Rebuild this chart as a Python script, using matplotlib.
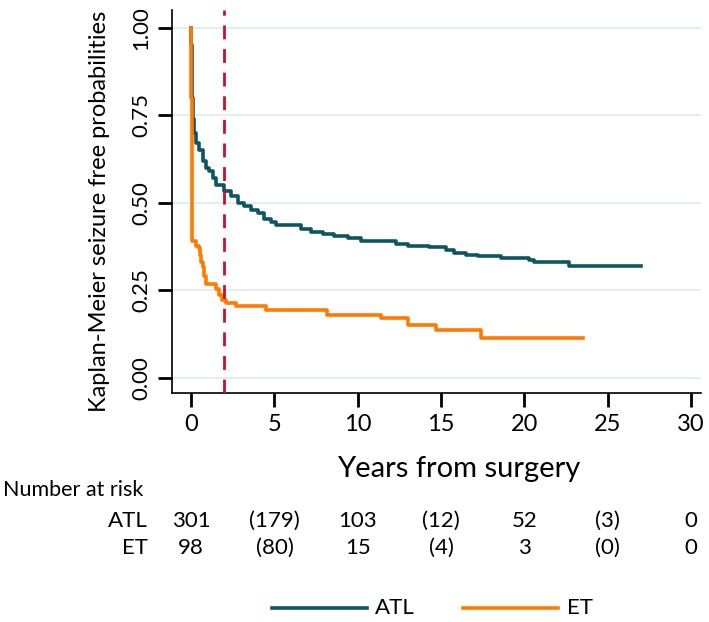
import matplotlib
matplotlib.use("Agg")
import matplotlib.pyplot as plt

plt.rcParams['font.family'] = ['Lato', 'DejaVu Sans']

# Kaplan-Meier step data (years, survival)
atl_t = [0, 0.02, 0.05, 0.08, 0.12, 0.2, 0.3, 0.48, 0.7, 0.9, 1.1, 1.3, 1.5, 2.0, 2.4,
         2.8, 3.2, 3.6, 4.0, 4.4, 4.8, 5.1, 6.6, 7.2, 7.9, 8.6, 9.4, 10.2, 12.3, 13.0,
         14.3, 15.3, 15.8, 16.5, 17.2, 18.6, 20.3, 20.6, 22.7, 27.0]
atl_s = [1.0, 0.95, 0.88, 0.80, 0.74, 0.70, 0.67, 0.65, 0.62, 0.60, 0.59, 0.57, 0.55, 0.535, 0.52,
         0.50, 0.49, 0.48, 0.47, 0.455, 0.445, 0.437, 0.425, 0.418, 0.41, 0.405, 0.40, 0.392, 0.383, 0.378,
         0.373, 0.365, 0.358, 0.352, 0.349, 0.342, 0.337, 0.33, 0.32, 0.32]
et_t = [0, 0.02, 0.04, 0.06, 0.08, 0.28, 0.45, 0.55, 0.62, 0.7, 0.8, 0.9, 1.5, 1.7, 1.85,
        2.1, 2.7, 4.5, 8.15, 11.4, 13.0, 14.7, 17.4, 23.5]
et_s = [1.0, 0.8, 0.6, 0.48, 0.39, 0.377, 0.37, 0.35, 0.33, 0.316, 0.29, 0.267, 0.253, 0.238, 0.224,
        0.215, 0.205, 0.195, 0.181, 0.17, 0.152, 0.136, 0.114, 0.114]

risk_times = [0, 5, 10, 15, 20, 25, 30]
risk_atl = ["301", "(179)", "103", "(12)", "52", "(3)", "0"]
risk_et = ["98", "(80)", "15", "(4)", "3", "(0)", "0"]
cutoff = 2

c_atl = "#0d5660"
c_et = "#ff7a00"

W, H = 709, 622
fig = plt.figure(figsize=(W / 100, H / 100), dpi=100)
ax = fig.add_axes([172 / W, 1 - 393 / H, 529 / W, 383 / H])

for y in [0, 0.25, 0.5, 0.75, 1.0]:
    ax.axhline(y, color="#e4eef2", lw=1.5, zorder=0)

ax.step(atl_t, atl_s, where="post", color=c_atl, lw=2.6, zorder=3)
ax.step(et_t, et_s, where="post", color=c_et, lw=2.6, zorder=3)
ax.axvline(cutoff, color="#c8102e", lw=2, ls=(0, (5, 3.5)), zorder=4)

ax.set_xlim(-1.15, 30.6)
ax.set_ylim(-0.043, 1.051)
ax.set_xticks(risk_times)
ax.set_yticks([0, 0.25, 0.5, 0.75, 1.0])
ax.set_yticklabels(["0.00", "0.25", "0.50", "0.75", "1.00"], rotation=90, va="center")
ax.tick_params(axis="both", length=10, width=2, pad=5)
ax.tick_params(axis="x", labelsize=17)
ax.tick_params(axis="y", labelsize=16)
for s in ["top", "right"]:
    ax.spines[s].set_visible(False)
ax.spines["left"].set_linewidth(1.2)
ax.spines["bottom"].set_linewidth(1.2)
ax.set_ylabel("Kaplan-Meier seizure free probabilities", fontsize=17)
ax.yaxis.set_label_coords(-0.118, (393 - 211) / 383)
ax.set_xlabel("Years from surgery", fontsize=21)
ax.xaxis.set_label_coords((459 - 172) / 529, -(456 - 393) / 383)

# number at risk table
fs = 16
fig.text(3 / W, 1 - 490 / H, "Number at risk", fontsize=15.5, va="center", ha="left")
fig.text(148 / W, 1 - 521 / H, "ATL", fontsize=fs, va="center", ha="right")
fig.text(148 / W, 1 - 548 / H, "ET", fontsize=fs, va="center", ha="right")
for t, a, e in zip(risk_times, risk_atl, risk_et):
    xf = fig.transFigure.inverted().transform(ax.transData.transform((t, 0)))[0]
    fig.text(xf, 1 - 521 / H, a, fontsize=fs, va="center", ha="center")
    fig.text(xf, 1 - 548 / H, e, fontsize=fs, va="center", ha="center")

# legend
ly = 1 - 608 / H
fig.add_artist(plt.Line2D([272 / W, 367 / W], [ly, ly], color=c_atl, lw=2.6))
fig.text(375 / W, ly, "ATL", fontsize=fs, va="center", ha="left")
fig.add_artist(plt.Line2D([463 / W, 558 / W], [ly, ly], color=c_et, lw=2.6))
fig.text(567 / W, ly, "ET", fontsize=fs, va="center", ha="left")

fig.savefig("out.png", dpi=100)
